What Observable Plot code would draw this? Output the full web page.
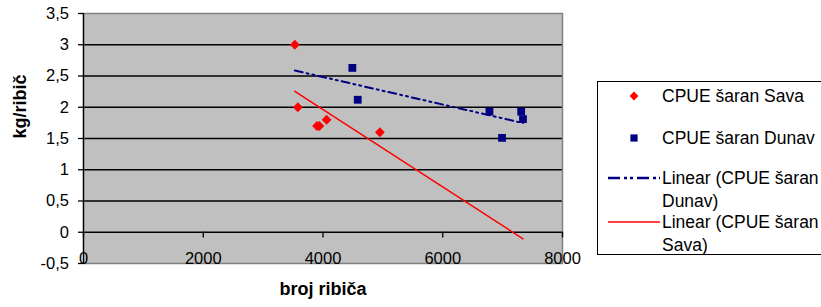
<!DOCTYPE html>
<html>
<head>
<meta charset="utf-8">
<script src="https://cdn.jsdelivr.net/npm/d3@7"></script>
<script src="https://cdn.jsdelivr.net/npm/@observablehq/plot@0.6"></script>
<style>
  html, body { margin: 0; padding: 0; background: white; overflow: hidden; }
  #wrap { position: relative; width: 821px; height: 307px; font-family: Arial, "Liberation Sans", sans-serif; }
  #legend { position: absolute; left: 597px; top: 81px; width: 240px; height: 174px; border: 1.3px solid #000; box-sizing: border-box; background: white; }
  .li { position: absolute; font-size: 17.5px; color: #000; white-space: nowrap; line-height: 23px; }
  .sw { position: absolute; }
</style>
</head>
<body>
<div id="wrap"></div>
<script>
// ---- data ----
const savaName = "CPUE šaran Sava";
const dunavName = "CPUE šaran Dunav";
const savaX = [3530, 3580, 3900, 3940, 4060, 4950];
const savaY = [3.0, 2.0, 1.7, 1.7, 1.8, 1.6];
const dunavX = [4490, 4580, 6780, 6990, 7310, 7340];
const dunavY = [2.63, 2.12, 1.93, 1.51, 1.93, 1.81];
const xTicks = [0, 2000, 4000, 6000, 8000];
const yTicks = [-0.5, 0, 0.5, 1, 1.5, 2, 2.5, 3, 3.5];
const gridY = [0, 0.5, 1, 1.5, 2, 2.5, 3];
const xTitle = "broj ribiča";
const yTitle = "kg/ribič";
const legendLabels = [savaName, dunavName, "Linear (CPUE šaran\nDunav)", "Linear (CPUE šaran\nSava)"];

const RED = "#ff0000", NAVY = "#000080";

const sava = savaX.map((x, i) => ({x, y: savaY[i]}));
const dunav = dunavX.map((x, i) => ({x, y: dunavY[i]}));

// least-squares trend lines, drawn across the full x extent of the data
function fit(pts) {
  const mx = d3.mean(pts, d => d.x), my = d3.mean(pts, d => d.y);
  const sxy = d3.sum(pts, d => (d.x - mx) * (d.y - my));
  const sxx = d3.sum(pts, d => (d.x - mx) ** 2);
  const b = sxy / sxx, a = my - b * mx;
  return x => a + b * x;
}
const span = d3.extent([...savaX, ...dunavX]);
const fS = fit(sava), fD = fit(dunav);
const savaTrend = span.map(x => ({x, y: fS(x)}));
const dunavTrend = span.map(x => ({x, y: fD(x)}));

const fmt = d => String(d).replace(".", ",");

const chart = Plot.plot({
  width: 821,
  height: 307,
  marginLeft: 83,
  marginRight: 259,
  marginTop: 13,
  marginBottom: 44,
  style: {fontFamily: 'Arial, "Liberation Sans", sans-serif', background: "transparent", color: "#000"},
  x: {domain: [0, 8000]},
  y: {domain: [-0.5, 3.5]},
  marks: [
    Plot.frame({fill: "#c0c0c0", stroke: null}),
    Plot.ruleY(gridY, {stroke: "#000", strokeWidth: 1.5}),
    Plot.frame({stroke: "#808080", strokeWidth: 1.5}),
    Plot.ruleX([0], {stroke: "#000", strokeWidth: 1.3}),
    Plot.ruleX(xTicks, {x: d => d, y1: 0, y2: -0.09, stroke: "#000", strokeWidth: 1.3}),
    Plot.axisY({ticks: yTicks, tickFormat: fmt, tickSize: 5, tickPadding: 9.5, fontSize: 16.5, label: null, stroke: "#000", strokeWidth: 1.3}),
    Plot.axisX({ticks: xTicks, tickFormat: d => String(d), tickSize: 0, tickPadding: 0, dy: -11.5, fontSize: 16.5, label: null}),
    Plot.line(savaTrend, {x: "x", y: "y", stroke: RED, strokeWidth: 1.5}),
    Plot.line(dunavTrend, {x: "x", y: "y", stroke: NAVY, strokeWidth: 2, strokeDasharray: "8,4,2,4,2,4"}),
    Plot.dot(sava, {x: "x", y: "y", symbol: "diamond2", r: 4.4, fill: RED, stroke: null}),
    Plot.dot(dunav, {x: "x", y: "y", symbol: "square", r: 4.4, fill: NAVY, stroke: null}),
    Plot.text([yTitle], {frameAnchor: "left", rotate: -90, dx: -63, fontSize: 18, fontWeight: "bold"}),
    Plot.text([xTitle], {frameAnchor: "bottom", dy: 31, fontSize: 18, fontWeight: "bold"})
  ]
});

const wrap = document.getElementById("wrap");
wrap.appendChild(chart);

// legend (HTML box on the right, as in the reference)
const legend = document.createElement("div");
legend.id = "legend";
wrap.appendChild(legend);
const rowsY = [14, 56, 96, 140]; // vertical centre of each entry's first line inside the box
const swatches = [
  `<svg width="12" height="12" viewBox="-6 -6 12 12"><path d="M0,-4.4L4.4,0L0,4.4L-4.4,0Z" fill="${RED}"/></svg>`,
  `<svg width="10" height="10" viewBox="-5 -5 10 10"><rect x="-3.6" y="-3.6" width="7.2" height="7.2" fill="${NAVY}"/></svg>`,
  `<svg width="52" height="6"><line x1="0" x2="52" y1="3" y2="3" stroke="${NAVY}" stroke-width="2.5" stroke-dasharray="12,4,3,3,3,4"/></svg>`,
  `<svg width="52" height="6"><line x1="0" x2="52" y1="3" y2="3" stroke="${RED}" stroke-width="1.6"/></svg>`
];
const swLeft = [30, 31, 10, 10];
const swH = [12, 10, 6, 6];
legendLabels.forEach((lab, i) => {
  const sw = document.createElement("div");
  sw.className = "sw";
  sw.style.left = swLeft[i] + "px";
  sw.style.top = (rowsY[i] - swH[i] / 2) + "px";
  sw.style.height = swH[i] + "px";
  sw.style.lineHeight = "0";
  sw.innerHTML = swatches[i];
  legend.appendChild(sw);
  const t = document.createElement("div");
  t.className = "li";
  t.style.left = "64px";
  t.style.top = (rowsY[i] - 11.5) + "px";
  t.innerHTML = lab.split("\n").join("<br>");
  legend.appendChild(t);
});
</script>
</body>
</html>
